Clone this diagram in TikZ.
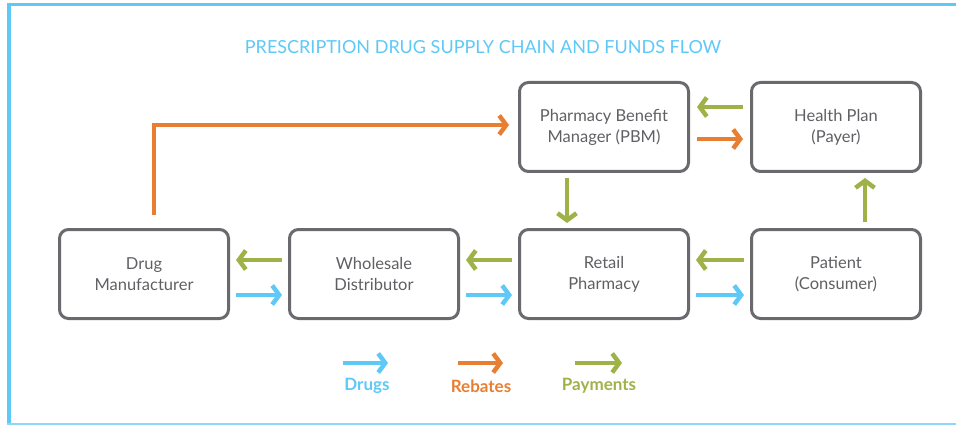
\documentclass[tikz,border=0pt]{standalone}
\usepackage{fontspec}
\setmainfont{Lato}
\usetikzlibrary{arrows.meta}
\definecolor{skyb}{RGB}{94,200,247}
\definecolor{skybl}{RGB}{140,215,250}
\definecolor{orng}{RGB}{232,126,50}
\definecolor{olive}{RGB}{158,178,72}
\definecolor{boxgray}{RGB}{106,106,110}
\definecolor{txtgray}{RGB}{96,96,100}
\tikzset{
  entity/.style={draw=boxgray, line width=3pt, rounded corners=9pt,
    minimum width=169pt, minimum height=89pt, align=center,
    text=txtgray, font=\fontsize{16.5}{21}\selectfont},
  flow/.style={line width=4.5pt, -{Straight Barb[length=7pt,width=19pt]}},
  drugflow/.style={flow, draw=skyb},
  rebflow/.style={flow, draw=orng},
  payflow/.style={flow, draw=olive},
  legendlbl/.style={font=\fontsize{17}{19}\selectfont\bfseries}
}
\begin{document}
\begin{tikzpicture}[x=1pt,y=-1pt]
\useasboundingbox (0,0) rectangle (956,425);
% frame
\draw[skyb, line width=3.5pt] (7,4.5) -- (956,4.5);
\draw[skyb, line width=4pt] (9,3) -- (9,425);
\draw[skybl, line width=1.5pt] (7,424) -- (956,424);
% title
\node[text=skyb, font=\fontsize{18}{20}\selectfont] (title) at (483,47) {PRESCRIPTION DRUG SUPPLY CHAIN AND FUNDS FLOW};
% boxes
\node[entity] (dm) at (144,274) {Drug\\Manufacturer};
\node[entity] (wd) at (374,274) {Wholesale\\Distributor};
\node[entity] (rp) at (604,274) {Retail\\Pharmacy};
\node[entity] (pt) at (836,274) {Patient\\(Consumer)};
\node[entity] (pbm) at (604,127) {Pharmacy Benefit\\Manager (PBM)};
\node[entity] (hp) at (836,127) {Health Plan\\(Payer)};
% payments (left)
\draw[payflow] ([xshift=-6pt,yshift=14pt]wd.west) -- ([xshift=6pt,yshift=14pt]dm.east);
\draw[payflow] ([xshift=-6pt,yshift=14pt]rp.west) -- ([xshift=6pt,yshift=14pt]wd.east);
\draw[payflow] ([xshift=-6pt,yshift=14pt]pt.west) -- ([xshift=6pt,yshift=14pt]rp.east);
% drugs (right)
\draw[drugflow] ([xshift=6pt,yshift=-21pt]dm.east) -- ([xshift=-6pt,yshift=-21pt]wd.west);
\draw[drugflow] ([xshift=6pt,yshift=-21pt]wd.east) -- ([xshift=-6pt,yshift=-21pt]rp.west);
\draw[drugflow] ([xshift=6pt,yshift=-21pt]rp.east) -- ([xshift=-6pt,yshift=-21pt]pt.west);
% PBM <-> health plan
\draw[payflow] ([xshift=-7pt,yshift=20pt]hp.west) -- ([xshift=7pt,yshift=20pt]pbm.east);
\draw[rebflow] ([xshift=7pt,yshift=-12pt]pbm.east) -- ([xshift=-7pt,yshift=-12pt]hp.west);
% vertical
\draw[payflow] ([xshift=-37pt,yshift=-5pt]pbm.south) -- ([xshift=-37pt,yshift=5pt]rp.north);
\draw[payflow] ([xshift=29pt,yshift=6pt]pt.north) -- ([xshift=29pt,yshift=-5pt]hp.south);
% rebate manufacturer -> PBM
\draw[rebflow] ([xshift=10pt,yshift=13pt]dm.north) |- ([xshift=-9pt,yshift=2pt]pbm.west);
% legend
\node[legendlbl, text=skyb] (lgd) at (367,386) {Drugs};
\node[legendlbl, text=orng] (lgr) at (481,386) {Rebates};
\node[legendlbl, text=olive] (lgp) at (599,386) {Payments};
\draw[drugflow] ([xshift=-24pt,yshift=23pt]lgd.center) -- ([xshift=21pt,yshift=23pt]lgd.center);
\draw[rebflow] ([xshift=-23pt,yshift=23pt]lgr.center) -- ([xshift=22pt,yshift=23pt]lgr.center);
\draw[payflow] ([xshift=-24pt,yshift=23pt]lgp.center) -- ([xshift=23pt,yshift=23pt]lgp.center);
\end{tikzpicture}
\end{document}
